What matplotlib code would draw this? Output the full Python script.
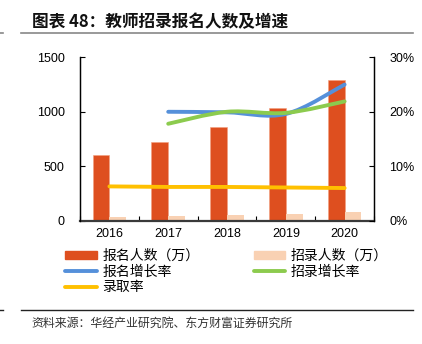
import numpy as np
import matplotlib.pyplot as plt
from matplotlib.path import Path
from matplotlib.patches import PathPatch
from matplotlib.lines import Line2D
from matplotlib.patches import Patch

plt.rcParams['font.family'] = ['Liberation Sans', 'Noto Sans CJK SC', 'DejaVu Sans']

years = ['2016', '2017', '2018', '2019', '2020']
applicants = [600, 720, 862, 1034, 1291]      # 报名人数（万）
hired = [37, 46, 55, 61, 80]                  # 招录人数（万）
applicant_growth = [20.0, 19.9, 19.6, 25.0]   # 报名增长率 %, 2017-2020
hired_growth = [17.8, 20.0, 19.8, 21.9]       # 招录增长率 %, 2017-2020
admit_rate = [6.3, 6.2, 6.2, 6.1, 6.0]        # 录取率 %

c_red = '#DE4F1F'
c_peach = '#F9D1B3'
c_blue = '#5590DA'
c_green = '#8CCB4E'
c_yellow = '#FFC000'


def smooth_path(xs, ys):
    # cubic bezier through the points, like a spreadsheet "smoothed line"
    pts = np.column_stack([xs, ys]).astype(float)
    n = len(pts)
    verts = [pts[0]]
    codes = [Path.MOVETO]
    for i in range(n - 1):
        p0 = pts[i - 1] if i > 0 else pts[i]
        p1 = pts[i]
        p2 = pts[i + 1]
        p3 = pts[i + 2] if i + 2 < n else pts[i + 1]
        c1 = p1 + (p2 - p0) / 6
        c2 = p2 - (p3 - p1) / 6
        verts += [c1, c2, p2]
        codes += [Path.CURVE4] * 3
    return Path(verts, codes)


fig = plt.figure(figsize=(4.22, 3.44), dpi=100)
ax = fig.add_axes([0.1896, 0.3584, 0.6967, 0.475])
ax2 = ax.twinx()

x = np.arange(len(years))
w = 0.285
ax.bar(x - w / 2, applicants, w, color=c_red, edgecolor='#F3A07E', linewidth=0.4, zorder=2)
ax.bar(x + w / 2, hired, w, color=c_peach, linewidth=0, zorder=2)

ax.set_xlim(-0.5, 4.5)
ax.set_ylim(0, 1500)
ax.set_yticks([0, 500, 1000, 1500])
ax2.set_ylim(0, 30)
ax2.set_yticks([0, 10, 20, 30])
ax2.set_yticklabels(['0%', '10%', '20%', '30%'])

ax.set_xticks(np.arange(-0.5, 5, 1))
ax.set_xticklabels([])
ax.set_xticks(x, minor=True)
ax.set_xticklabels(years, minor=True)
ax.tick_params(axis='x', which='major', direction='in', length=3.5, width=0.8)
ax.tick_params(axis='x', which='minor', length=0, pad=5, labelsize=9)
ax.tick_params(axis='y', direction='in', length=3.5, width=0.8, labelsize=9, pad=11)
ax2.tick_params(axis='y', direction='in', length=3.5, width=0.8, labelsize=9, pad=11)

for a in (ax, ax2):
    a.spines['top'].set_visible(False)
    a.spines['left'].set_linewidth(0.9)
    a.spines['right'].set_linewidth(0.9)
ax.spines['bottom'].set_linewidth(1.6)
ax.spines['bottom'].set_color('#3a3a3a')
ax2.spines['bottom'].set_visible(False)

ax2.add_patch(PathPatch(smooth_path(x[1:], applicant_growth), fill=False,
                        edgecolor=c_blue, lw=2.8, capstyle='round', zorder=3))
ax2.add_patch(PathPatch(smooth_path(x[1:], hired_growth), fill=False,
                        edgecolor=c_green, lw=2.8, capstyle='round', zorder=3))
ax2.plot(x, admit_rate, color=c_yellow, lw=2.8, solid_capstyle='round', zorder=3)

handles = [
    Patch(color=c_red), Line2D([], [], color=c_blue, lw=2.8, solid_capstyle='round'),
    Line2D([], [], color=c_yellow, lw=2.8, solid_capstyle='round'),
    Patch(color=c_peach), Line2D([], [], color=c_green, lw=2.8, solid_capstyle='round'),
]
labels = ['报名人数（万）', '报名增长率', '录取率', '招录人数（万）', '招录增长率']
leg = fig.legend(handles, labels, ncol=2, frameon=False, loc='upper left',
                 bbox_to_anchor=(0.155, 0.277), prop={'family': 'Noto Sans CJK SC', 'size': 10},
                 handlelength=2.3, handleheight=0.5, handletextpad=0.35,
                 labelspacing=0.12, columnspacing=3.9, borderaxespad=0, borderpad=0)

fig.text(0.076, 0.936, '图表 48：教师招录报名人数及增速', family='Noto Sans CJK SC',
         weight='bold', fontsize=12, va='center', ha='left', color='#111111')
fig.add_artist(Line2D([0.05, 0.979], [0.904, 0.904], color='#888888', lw=1.2))
fig.add_artist(Line2D([0.0, 0.008], [0.904, 0.904], color='#888888', lw=1.2))
fig.add_artist(Line2D([0.05, 0.979], [0.098, 0.098], color='#222222', lw=1.0))
fig.add_artist(Line2D([0.0, 0.008], [0.098, 0.098], color='#222222', lw=1.0))
fig.text(0.074, 0.059, '资料来源：华经产业研究院、东方财富证券研究所', family='Noto Sans CJK SC',
         fontsize=8.6, va='center', ha='left', color='#333333')

fig.savefig('out.png', dpi=100)
